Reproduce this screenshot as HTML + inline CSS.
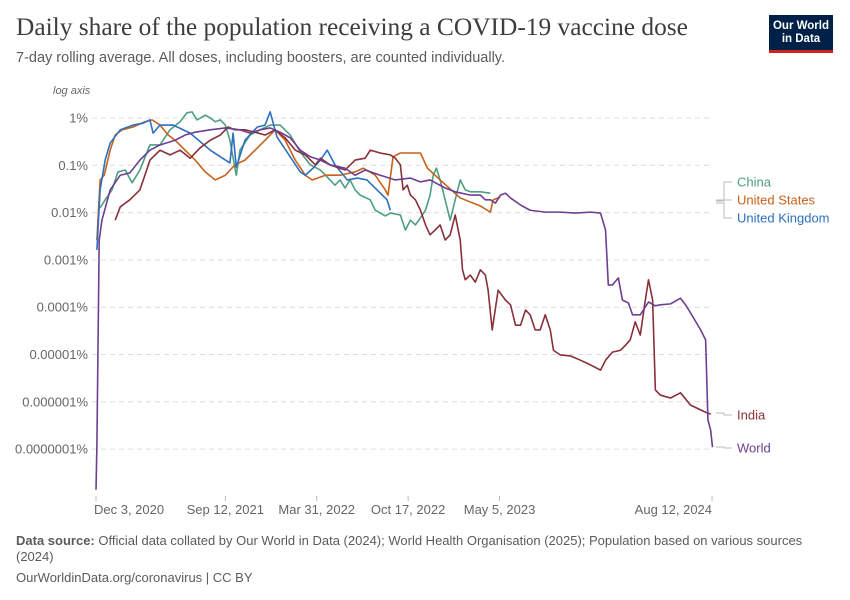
<!DOCTYPE html>
<html><head><meta charset="utf-8"><style>
body{margin:0;background:#fff;font-family:"Liberation Sans",sans-serif}
#wrap{position:relative;width:850px;height:600px;overflow:hidden}
.t{position:absolute;white-space:nowrap}
</style></head><body>
<div id="wrap">
<div class="t" style="left:16px;top:13px;font-family:'Liberation Serif',serif;font-size:25.4px;color:#3d3d3d">Daily share of the population receiving a COVID-19 vaccine dose</div>
<div class="t" style="left:16px;top:50px;font-size:14.5px;color:#5b5b5b">7-day rolling average. All doses, including boosters, are counted individually.</div>
<div style="position:absolute;left:769px;top:15px;width:64px;height:38px;background:#002147;border-bottom:3px solid #ce261e;box-sizing:border-box;color:#fff;font-size:11.5px;font-weight:bold;line-height:13px;text-align:center;padding-top:5px">Our World<br>in Data</div>
<svg id="chart" width="850" height="600" style="position:absolute;left:0;top:0"></svg>
<div class="t" style="left:16px;top:533px;font-size:13px;color:#5b5b5b;line-height:16px;white-space:normal;width:800px"><b>Data source:</b> Official data collated by Our World in Data (2024); World Health Organisation (2025); Population based on various sources (2024)</div>
<div class="t" style="left:16px;top:570px;font-size:13px;color:#5b5b5b">OurWorldinData.org/coronavirus | CC BY</div>
</div>
<script>
// days since Dec 3, 2020 ; values are log10(percent)
const worldDays=[0,2,7,13,31,53,74,96,118,140,173,195,217,250,283,315,337,359,381,403,425,447,469,491,512,545,567,589,622,655,688,710,731,764,786,819,841,852,863,874,885,896,907,929,950,983,1016,1049,1082,1104,1115,1121,1130,1143,1152,1165,1174,1191,1209,1224,1235,1257,1279,1290,1301,1323,1334,1339,1345,1349];
const worldVals=[-7.86,-6.91,-2.58,-2.16,-1.52,-1.21,-1.16,-0.89,-0.68,-0.57,-0.47,-0.36,-0.30,-0.25,-0.21,-0.25,-0.32,-0.25,-0.21,-0.30,-0.42,-0.68,-0.82,-0.89,-0.99,-1.06,-1.21,-1.10,-1.21,-1.31,-1.27,-1.35,-1.31,-1.48,-1.56,-1.63,-1.63,-1.73,-1.73,-1.80,-1.63,-1.59,-1.69,-1.84,-1.95,-1.99,-1.99,-2.01,-1.99,-2.01,-2.37,-3.53,-3.53,-3.38,-3.85,-3.91,-4.16,-4.16,-3.89,-3.97,-3.95,-3.93,-3.81,-3.95,-4.12,-4.48,-4.69,-6.38,-6.60,-6.96];
const indiaDays=[42,53,74,96,107,118,140,162,184,206,228,250,272,289,304,326,348,370,392,414,436,458,480,491,512,545,567,589,600,622,644,655,666,672,681,688,699,710,721,731,742,753,764,775,786,797,802,808,819,830,841,852,858,867,880,896,907,918,929,940,950,961,972,983,994,1001,1016,1038,1060,1082,1104,1115,1130,1148,1159,1169,1180,1191,1202,1209,1218,1224,1235,1257,1279,1301,1323,1334,1345];
const indiaVals=[-2.16,-1.88,-1.73,-1.52,-1.21,-0.89,-0.68,-0.78,-0.68,-0.85,-0.63,-0.47,-0.36,-0.19,-0.25,-0.25,-0.30,-0.36,-0.25,-0.42,-0.68,-0.78,-0.99,-0.85,-0.99,-1.10,-0.89,-0.85,-0.68,-0.74,-0.78,-0.85,-0.99,-1.52,-1.42,-1.63,-1.73,-1.95,-2.26,-2.47,-2.37,-2.26,-2.58,-2.47,-2.05,-2.58,-3.21,-3.42,-3.32,-3.47,-3.21,-3.32,-3.64,-4.48,-3.64,-3.85,-3.95,-4.38,-4.38,-4.06,-4.16,-4.48,-4.48,-4.16,-4.48,-4.91,-5.01,-5.03,-5.12,-5.22,-5.33,-5.12,-4.95,-4.91,-4.80,-4.69,-4.31,-4.59,-3.85,-3.42,-3.85,-5.75,-5.86,-5.92,-5.81,-6.07,-6.17,-6.22,-6.26];
const chinaDays=[9,20,35,48,64,79,96,118,140,162,184,199,210,221,239,250,261,272,283,293,307,315,337,359,381,403,425,447,469,491,502,523,534,545,556,567,578,600,611,633,644,666,677,688,699,710,721,731,738,745,753,764,775,786,797,808,819,841,863];
const chinaVals=[-1.90,-1.73,-1.52,-1.14,-1.10,-1.37,-1.10,-0.57,-0.57,-0.25,-0.08,0.11,0.13,-0.04,0.06,0,-0.08,-0.04,-0.15,-0.47,-1.21,-0.68,-0.36,-0.25,-0.15,-0.15,-0.36,-0.72,-0.99,-1.10,-1.21,-1.42,-1.31,-1.48,-1.31,-1.52,-1.63,-1.73,-1.95,-2.07,-2.01,-2.05,-2.37,-2.16,-2.26,-2.11,-1.95,-1.63,-1.21,-1.06,-1.31,-1.73,-2.16,-1.73,-1.31,-1.52,-1.56,-1.56,-1.59];
const usDays=[2,9,18,31,42,57,81,107,123,140,158,173,195,217,239,261,283,304,326,348,370,392,414,436,458,473,502,534,567,585,611,633,639,650,666,710,725,753,797,841,863,869,885];
const usVals=[-2.58,-1.31,-1.21,-0.68,-0.36,-0.25,-0.19,-0.08,-0.04,-0.15,-0.36,-0.47,-0.68,-0.89,-1.14,-1.31,-1.21,-0.99,-0.89,-0.68,-0.47,-0.25,-0.47,-0.89,-1.21,-1.31,-1.21,-1.21,-1.14,-1.06,-1.21,-1.52,-1.63,-0.82,-0.74,-0.74,-1.06,-1.31,-1.69,-1.86,-1.99,-1.73,-1.67];
const ukDays=[2,9,20,31,53,81,103,118,125,140,169,206,250,293,300,307,326,353,370,381,396,425,447,458,475,491,506,523,550,572,593,615,637,644];
const ukVals=[-2.79,-1.52,-0.89,-0.53,-0.25,-0.15,-0.11,-0.04,-0.32,-0.15,-0.15,-0.32,-0.68,-0.95,-0.32,-1.04,-0.47,-0.19,-0.15,0.13,-0.40,-0.82,-1.14,-1.21,-1.06,-0.89,-0.68,-0.99,-1.31,-1.27,-1.31,-1.52,-1.73,-1.95];
const yTicks=[0,-1,-2,-3,-4,-5,-6,-7];
const yTickLabels=["1%","0.1%","0.01%","0.001%","0.0001%","0.00001%","0.000001%","0.0000001%"];
const xTickDays=[0,283,483,683,883,1348];
const xTickLabels=["Dec 3, 2020","Sep 12, 2021","Mar 31, 2022","Oct 17, 2022","May 5, 2023","Aug 12, 2024"];

const NS="http://www.w3.org/2000/svg";
const svg=document.getElementById('chart');
const X=d=>96+d*0.457;
const Y=v=>118-v*47.3;
function mk(tag,attrs){const e=document.createElementNS(NS,tag);for(const k in attrs)e.setAttribute(k,attrs[k]);svg.appendChild(e);return e;}

yTicks.forEach((v,i)=>{
  const g=mk('line',{x1:92,x2:712,y1:Y(v),y2:Y(v),stroke:'#dcdcdc','stroke-dasharray':'5,4'});
  
  
  const t=mk('text',{x:88,y:Y(v)+4.5,'text-anchor':'end','font-size':13,fill:'#666','font-family':'Liberation Sans, sans-serif'});
  t.textContent=yTickLabels[i];
  
  
});
const la=mk('text',{x:53,y:94,'font-size':11,'font-style':'italic',fill:'#666','font-family':'Liberation Sans, sans-serif'});
la.textContent='log axis';


xTickDays.forEach((d,i)=>{
  const tk=mk('line',{x1:X(d),x2:X(d),y1:496,y2:501,stroke:'#bbb'});
  
  
  const anchor=i===0?'start':(i===xTickDays.length-1?'end':'middle');
  const t=mk('text',{x:X(d)-(i===0?2:0),y:514,'text-anchor':anchor,'font-size':13,fill:'#666','font-family':'Liberation Sans, sans-serif'});
  t.textContent=xTickLabels[i];
  
  
});
function series(days,vals,color,name){
  const p=mk('polyline',{points:days.map((d,i)=>X(d)+','+Y(vals[i])).join(' '),fill:'none',stroke:color,'stroke-width':1.6,'stroke-linejoin':'round'});
  
  
}
series(chinaDays,chinaVals,'#4c9f80','line-china');
series(usDays,usVals,'#c8611b','line-united-states');
series(ukDays,ukVals,'#2e6fc0','line-united-kingdom');
series(indiaDays,indiaVals,'#883039','line-india');
series(worldDays,worldVals,'#6d3e91','line-world');

const legendNames=["China","United States","United Kingdom","India","World"];
const legendColors=['#4c9f80','#c8611b','#2e6fc0','#883039','#6d3e91'];
const legendY=[182,200,218,415,448];
const legendFrom=[200,201,203,413,447];
legendNames.forEach((n,i)=>{
  const c=mk('polyline',{points:`716,${legendFrom[i]} 724,${legendFrom[i]} 724,${legendY[i]} 732,${legendY[i]}`,fill:'none',stroke:'#bbb'});
  
  
  const t=mk('text',{x:737,y:legendY[i]+4.5,'font-size':13,fill:legendColors[i],'font-family':'Liberation Sans, sans-serif'});
  t.textContent=n;
  
  
});
</script>
</body></html>
